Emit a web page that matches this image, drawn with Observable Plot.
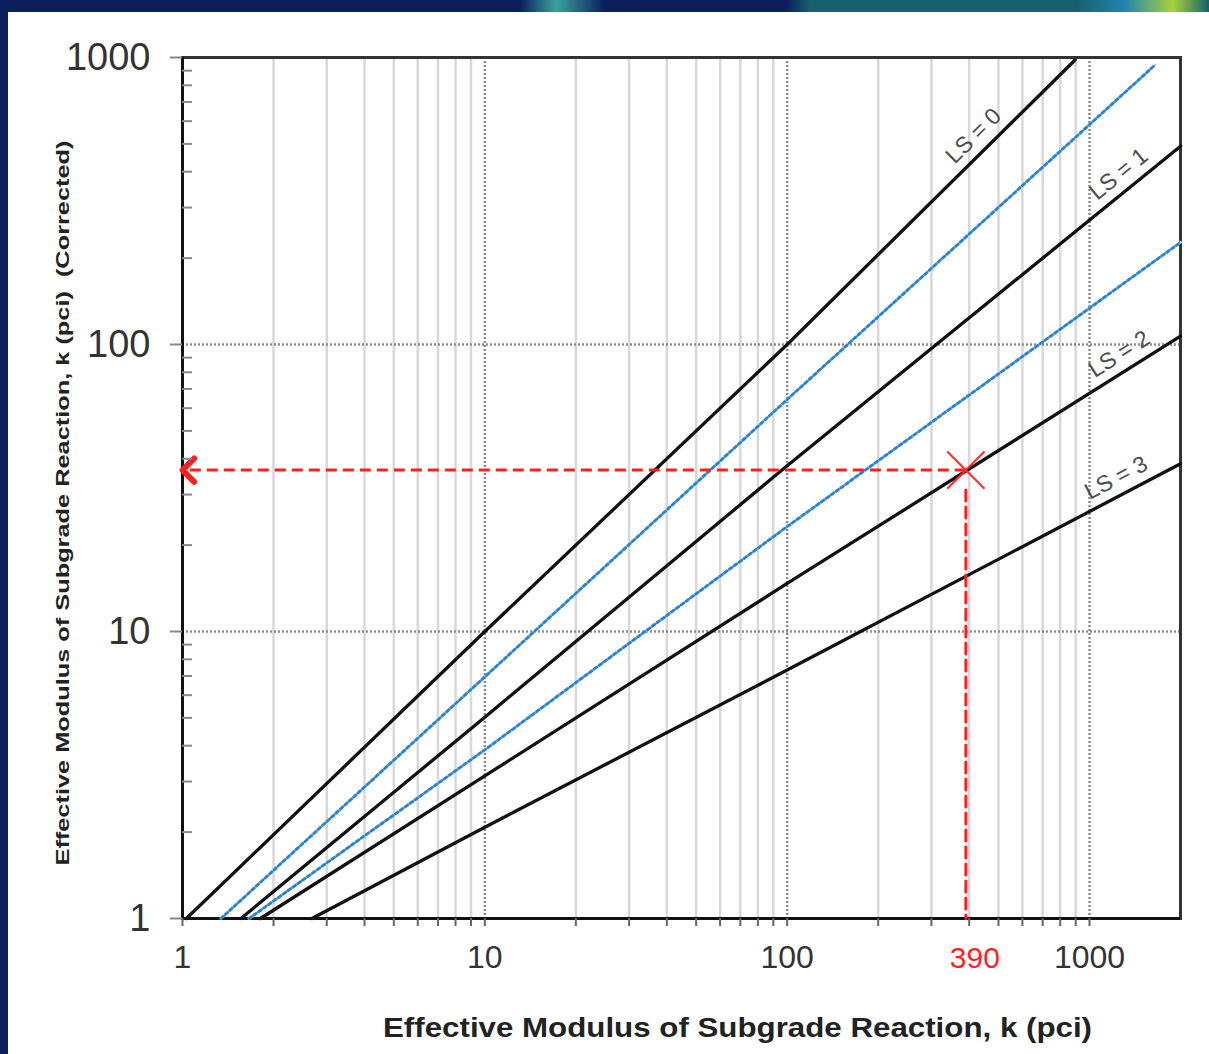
<!DOCTYPE html>
<html><head><meta charset="utf-8">
<script src="https://cdn.jsdelivr.net/npm/d3@7"></script>
<script src="https://cdn.jsdelivr.net/npm/@observablehq/plot@0.6"></script>
<style>
html,body{margin:0;padding:0;background:#fff;}
#wrap{position:relative;width:1209px;height:1054px;overflow:hidden;background:#fff;}
#chart{position:absolute;left:0;top:0;}
.bar-top{position:absolute;left:0;top:0;width:1209px;height:12px;
  background:linear-gradient(to right,#0b1f5d 0%,#0b1f5d 43%,#3aa39a 46%,#0b1f5d 50%,#0b1f5d 65%,#17606e 67%,#17606e 89%,#2284b0 93%,#a6d23c 97%,#17606e 100%);}
.bar-left{position:absolute;left:0;top:0;width:8px;height:1054px;background:#0b1f5d;}
</style></head>
<body><div id="wrap"><div id="chart"></div><div class="bar-top"></div><div class="bar-left"></div></div>
<script>
// ---- data ----
const xMajor = [1, 10, 100, 1000];
const yMajor = [1, 10, 100, 1000];
const xMinor = [2,3,4,5,6,7,8,9,20,30,40,50,60,70,80,90,200,300,400,500,600,700,800,900];
const yMinor = [2,3,4,5,6,7,8,9,20,30,40,50,60,70,80,90,200,300,400,500,600,700,800,900];
const xDomain = [1, 2000];
const yDomain = [1, 1000];

// effective k (x) and corrected k (y)
const ls0K  = [1.03, 10, 100, 896];   const ls0Kc  = [1, 10, 100, 980];
const ls05K = [1.34, 10, 100, 1648];  const ls05Kc = [1, 6.95, 64.3, 942];
const ls1K  = [1.56, 10, 100, 2000];  const ls1Kc  = [1, 5.03, 37.8, 491];
const ls15K = [1.66, 10, 100, 2000];  const ls15Kc = [1, 3.87, 23.2, 227];
const ls2K  = [1.81, 10, 100, 2000];  const ls2Kc  = [1, 3.14, 14.7, 107];
const ls3K  = [2.68, 10, 100, 2000];  const ls3Kc  = [1, 2.08, 7.34, 38.4];

const blackNames = ["LS = 0", "LS = 1", "LS = 2", "LS = 3"];
const blueNames = ["LS = 0.5", "LS = 1.5"];

const readK = 390;      // example input
const readKc = 36.5;    // example result
const readLabel = "390";

const xTitle = "Effective Modulus of Subgrade Reaction, k (pci)";
const yTitle = "Effective Modulus of Subgrade Reaction, k (pci)\u00a0\u00a0(Corrected)";

// ---- build tables ----
function rows(name, ks, kcs){ return ks.map((k,i)=>({name, k, kc: kcs[i]})); }
const black = [
  rows(blackNames[0], ls0K, ls0Kc),
  rows(blackNames[1], ls1K, ls1Kc),
  rows(blackNames[2], ls2K, ls2Kc),
  rows(blackNames[3], ls3K, ls3Kc)
];
const blue = [rows(blueNames[0], ls05K, ls05Kc), rows(blueNames[1], ls15K, ls15Kc)];
const annot = [{k: readK, kc: readKc, k0: xDomain[0], kc0: yDomain[0]}];

// ---- layout ----
const W = 1209, H = 1054, mL = 182, mR = 29, mT = 57, mB = 136;
const decX = (W - mL - mR) / Math.log10(xDomain[1] / xDomain[0]);
const decY = (H - mT - mB) / Math.log10(yDomain[1] / yDomain[0]);
const font = '"Liberation Sans", Arial, Helvetica, sans-serif';

// line labels placed at the end of each black line, rotated along it
const labelBack = [92, 32, 28, 30];
const labelMarks = black.map((s, i) => {
  const a = s[s.length - 2], b = s[s.length - 1];
  const slope = (Math.log10(b.kc) - Math.log10(a.kc)) / (Math.log10(b.k) - Math.log10(a.k));
  const ang = Math.atan(slope * decY / decX);
  const d = labelBack[i], g = 10;
  return Plot.text([b], {
    x: "k", y: "kc", text: "name",
    rotate: -ang * 180 / Math.PI,
    textAnchor: "end", lineAnchor: "bottom",
    dx: -d * Math.cos(ang) - g * Math.sin(ang),
    dy: d * Math.sin(ang) - g * Math.cos(ang),
    fontSize: 23, fill: "#4d4d4d"
  });
});

const plot = Plot.plot({
  width: W, height: H,
  marginLeft: mL, marginRight: mR, marginTop: mT, marginBottom: mB,
  style: {fontFamily: font, background: "transparent", overflow: "visible"},
  x: {type: "log", domain: xDomain},
  y: {type: "log", domain: yDomain},
  marks: [
    Plot.gridX(xMinor, {stroke: "#d8d8d8", strokeOpacity: 1, strokeWidth: 2.5}),
    Plot.gridX(xMajor.slice(1), {stroke: "#8c8c8c", strokeOpacity: 1, strokeWidth: 2.5, strokeDasharray: "2,2"}),
    Plot.gridY(yMajor.slice(1, 3), {stroke: "#8c8c8c", strokeOpacity: 1, strokeWidth: 2.5, strokeDasharray: "2,2"}),
    Plot.frame({stroke: "#333", strokeWidth: 3}),
    Plot.ruleX([xDomain[0]], {stroke: "#111", strokeWidth: 3}),
    Plot.ruleY([yDomain[0]], {stroke: "#111", strokeWidth: 3}),
    Plot.line(blue.flat(), {x: "k", y: "kc", z: "name", stroke: "#b3d4f2", strokeWidth: 2.8}),
    Plot.line(blue.flat(), {x: "k", y: "kc", z: "name", stroke: "#2b82cf", strokeWidth: 2.8, strokeDasharray: "3,3"}),
    Plot.line(black.flat(), {x: "k", y: "kc", z: "name", stroke: "#111", strokeWidth: 3.3}),
    ...labelMarks,
    // red read-off annotation
    Plot.link(annot, {x1: "k", y1: "kc", x2: "k0", y2: "kc", stroke: "#ff1f1f", strokeWidth: 3, strokeDasharray: "11,6", markerEnd: "arrow"}),
    Plot.arrow(annot, {x1: "k", y1: "kc", x2: "k", y2: "kc0", stroke: "#ff1f1f", strokeWidth: 3, strokeDasharray: "11,6", headLength: 0, insetStart: 20}),
    Plot.dot(annot, {x: "k", y: "kc", symbol: "times", r: 17, stroke: "#ff2a2a", strokeWidth: 2}),
    Plot.text([readLabel], {x: () => readK, text: d => d, frameAnchor: "bottom", lineAnchor: "top", dx: 9, dy: 28, fontSize: 30, fill: "#ff1f1f"}),
    // axes
    Plot.axisX(xMinor.concat(xMajor), {anchor: "bottom", tickSize: 8, tickPadding: 19,
      tickFormat: d => xMajor.includes(d) ? String(d) : "", fontSize: 32, fill: "#333", stroke: "#666", strokeWidth: 2, label: null}),
    Plot.axisY(yMajor, {anchor: "left", tickSize: 12, tickPadding: 20, tickFormat: d => String(d),
      fontSize: 38, fill: "#333", stroke: "#888", strokeWidth: 2, label: null}),
    Plot.axisY(yMinor, {anchor: "left", tickSize: -10, tickPadding: 0, tickFormat: () => "",
      stroke: "#888", strokeWidth: 2, label: null}),
    // titles
    Plot.text([xTitle], {text: d => d, frameAnchor: "bottom", textAnchor: "middle", lineAnchor: "middle", dx: 56, dy: 110,
      fontSize: 27, fontWeight: "bold", fill: "#222"}),
    Plot.text([yTitle], {text: d => d, frameAnchor: "left", textAnchor: "middle", rotate: -90, lineAnchor: "middle", dx: -120, dy: 15,
      fontSize: 19, fontWeight: "bold", fill: "#222"})
  ]
});
const svg = d3.select(plot);
svg.selectAll("marker").attr("markerWidth", 13).attr("markerHeight", 13).attr("refX", 1.5);
svg.selectAll("text").filter(function(){ return this.textContent === xTitle; })
  .attr("textLength", 709).attr("lengthAdjust", "spacingAndGlyphs");
svg.selectAll("text").filter(function(){ return this.textContent === yTitle; })
  .attr("textLength", 725).attr("lengthAdjust", "spacingAndGlyphs");
document.getElementById("chart").appendChild(plot);
</script>
</body></html>
